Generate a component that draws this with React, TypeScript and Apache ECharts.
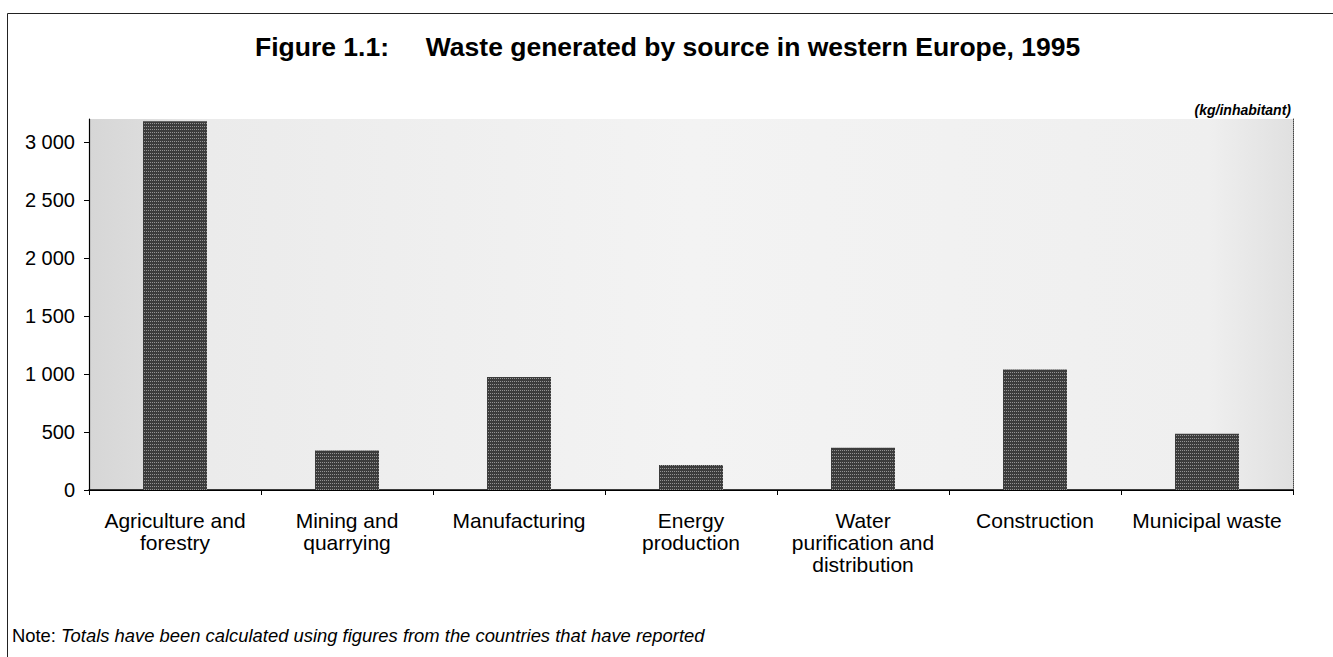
import React, { useEffect, useRef } from "react";
import * as echarts from "echarts";

const categories = [
  "Agriculture and\nforestry",
  "Mining and\nquarrying",
  "Manufacturing",
  "Energy\nproduction",
  "Water\npurification and\ndistribution",
  "Construction",
  "Municipal waste",
];
const wastePerInhabitant = [3180, 340, 975, 215, 365, 1040, 485];
const yTickValues = [0, 500, 1000, 1500, 2000, 2500, 3000];

const titleText = "Figure 1.1:     Waste generated by source in western Europe, 1995";
const unitText = "(kg/inhabitant)";
const noteLabel = "Note: ";
const noteText = "Totals have been calculated using figures from the countries that have reported";

const FONT = "'Liberation Sans', Arial, Helvetica, sans-serif";

function fmt(v: number): string {
  if (!yTickValues.includes(v)) return "";
  return String(v).replace(/\B(?=(\d{3})+(?!\d))/g, " ");
}

export default function App() {
  const ref = useRef<HTMLDivElement>(null);
  useEffect(() => {
    if (!ref.current) return;
    const chart = echarts.init(ref.current, undefined, { renderer: "svg" });
    chart.setOption({
      animation: false,
      backgroundColor: "#ffffff",
      textStyle: { fontFamily: FONT, color: "#000" },
      title: {
        text: titleText,
        left: 250,
        top: 28,
        textStyle: { fontFamily: FONT, fontSize: 26.5, fontWeight: "bold", color: "#000" },
      },
      graphic: [
        {
          type: "rect",
          shape: { x: 7.5, y: 13.5, width: 1400, height: 700 },
          style: { fill: "none", stroke: "#222", lineWidth: 1 },
          silent: true,
        },
        {
          type: "text",
          right: 42,
          top: 103,
          style: {
            text: unitText,
            font: `italic bold 14px ${FONT}`,
            fill: "#000",
          },
        },
        {
          type: "text",
          left: 12,
          top: 626,
          style: {
            rich: {
              a: { fontFamily: FONT, fontSize: 18.4, fill: "#000" },
              b: { fontFamily: FONT, fontSize: 18.4, fontStyle: "italic", fill: "#000" },
            },
            text: `{a|${noteLabel}}{b|${noteText}}`,
          },
        },
      ],
      grid: {
        left: 89,
        right: 40,
        top: 119,
        bottom: 167,
        show: true,
        borderWidth: 0,
        backgroundColor: {
          type: "linear",
          x: 0,
          y: 0,
          x2: 1,
          y2: 0,
          colorStops: [
            { offset: 0, color: "#d6d6d6" },
            { offset: 0.045, color: "#dcdcdc" },
            { offset: 0.1, color: "#ebebeb" },
            { offset: 0.5, color: "#f3f3f3" },
            { offset: 0.93, color: "#efefef" },
            { offset: 1, color: "#e0e0e0" },
          ],
        },
      },
      xAxis: [
        {
          type: "category",
          data: categories,
          boundaryGap: true,
          axisLine: { show: true, lineStyle: { color: "#000", width: 1.2 } },
          axisTick: { show: true, length: 5, lineStyle: { color: "#000" } },
          axisLabel: {
            interval: 0,
            margin: 19,
            fontFamily: FONT,
            fontSize: 21,
            lineHeight: 22,
            color: "#000",
            align: "center",
          },
          splitLine: { show: false },
        },
        {
          type: "category",
          position: "top",
          data: categories,
          axisLine: { show: true, lineStyle: { color: "#000", width: 1.5 } },
          axisTick: { show: false },
          axisLabel: { show: false },
        },
      ],
      yAxis: [
        {
          type: "value",
          min: 0,
          max: 3200,
          interval: 500,
          axisLine: { show: true, lineStyle: { color: "#000", width: 1.2 } },
          axisTick: { show: true, length: 5, lineStyle: { color: "#000" } },
          axisLabel: {
            margin: 14,
            fontFamily: FONT,
            fontSize: 20,
            color: "#000",
            formatter: (v: number) => fmt(v),
            showMaxLabel: false,
          },
          splitLine: { show: false },
        },
        {
          type: "value",
          position: "right",
          min: 0,
          max: 3200,
          axisLine: { show: true, lineStyle: { color: "#444", width: 1, type: "dotted" } },
          axisTick: { show: false },
          axisLabel: { show: false },
          splitLine: { show: false },
        },
      ],
      series: [
        {
          type: "bar",
          data: wastePerInhabitant,
          barWidth: 64,
          itemStyle: {
            color: "#3c3c3c",
            decal: {
              symbol: "rect",
              symbolSize: 1,
              dashArrayX: [1, 1],
              dashArrayY: [1, 2],
              rotation: 0,
              color: "rgba(255,255,255,0.45)",
            },
          },
          emphasis: { disabled: true },
        },
      ],
    });
    return () => chart.dispose();
  }, []);
  return (
    <div
      ref={ref}
      style={{ position: "absolute", left: 0, top: 0, width: 1333, height: 657 }}
    />
  );
}
